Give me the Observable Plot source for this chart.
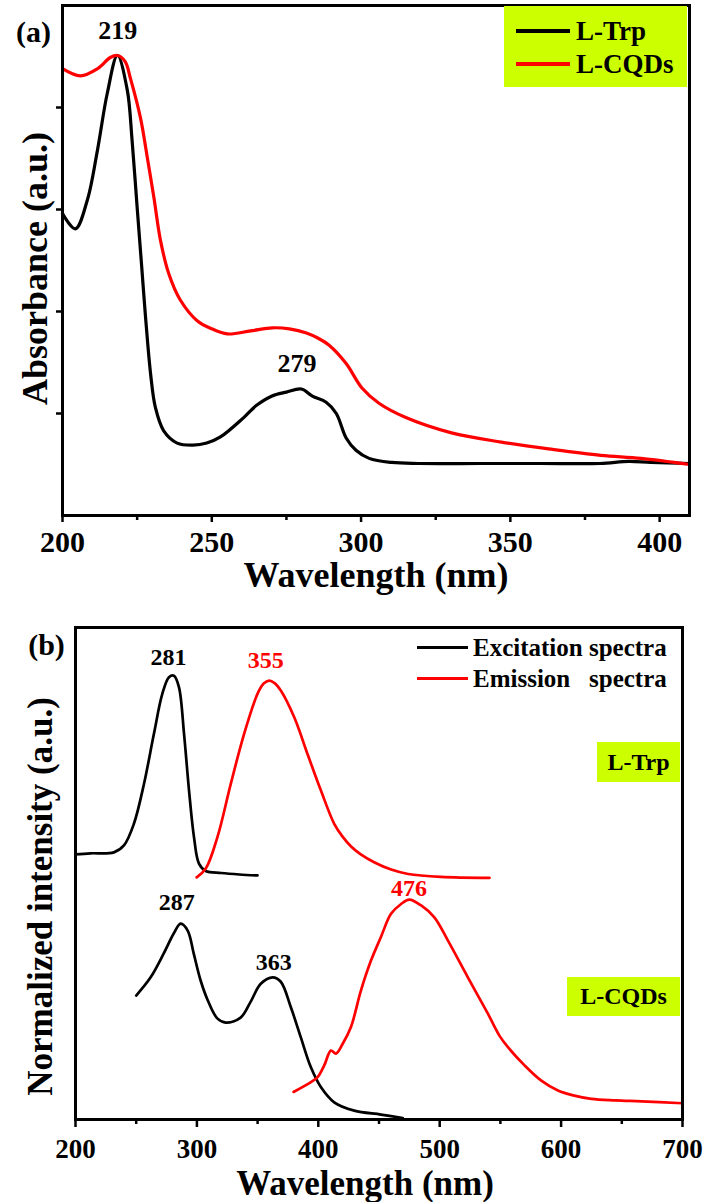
<!DOCTYPE html>
<html><head><meta charset="utf-8">
<script src="https://cdn.jsdelivr.net/npm/d3@7"></script>
<script src="https://cdn.jsdelivr.net/npm/@observablehq/plot@0.6"></script>
<style>
body{margin:0;background:#fff;}
#wrap{position:relative;width:708px;height:1202px;font-family:"Liberation Serif","Times New Roman",serif;font-weight:bold;color:#000;overflow:hidden;}
.abs{position:absolute;white-space:pre;font-weight:bold;}
.sw{position:absolute;height:3px;}
.green{position:absolute;background:#ccff00;font-weight:bold;}
</style></head><body><div id="wrap"></div>
<script>
// ---------- Panel (a): UV-Vis absorbance ----------
const trpA_wl  = [200, 204.3, 208.3, 211.7, 215, 218.4, 221.7, 223.3, 225.0, 226.5, 227.8, 229.5, 231.1, 233.9, 238.4, 243.7, 248.3, 252.9, 260.7, 265, 270, 275, 280, 283.7, 288.3, 291.7, 295, 298.3, 302.7, 310.3, 319.3, 340, 360, 380, 389.7, 397, 410];
const trpA_abs = [2.96, 2.81, 3.09, 3.58, 4.14, 4.51, 4.17, 3.68, 3.02, 2.45, 1.95, 1.39, 1.06, 0.83, 0.71, 0.69, 0.71, 0.77, 0.96, 1.08, 1.17, 1.21, 1.24, 1.17, 1.11, 1.00, 0.76, 0.64, 0.56, 0.52, 0.51, 0.51, 0.51, 0.51, 0.53, 0.52, 0.51];
const cqdA_wl  = [200, 206, 211.7, 216, 218.5, 221, 222.8, 226.1, 228.4, 230.6, 232.8, 235.6, 239.5, 245.1, 250, 255.2, 263, 270.3, 276, 281.7, 285.5, 289.3, 295, 300.3, 306, 315, 330.3, 347, 363.7, 380.3, 393.7, 410];
const cqdA_abs = [4.38, 4.31, 4.38, 4.49, 4.51, 4.45, 4.28, 3.90, 3.51, 3.12, 2.70, 2.37, 2.11, 1.91, 1.83, 1.78, 1.81, 1.84, 1.83, 1.79, 1.74, 1.67, 1.49, 1.25, 1.10, 0.96, 0.81, 0.72, 0.65, 0.59, 0.56, 0.50];
const xTicksA = [200, 250, 300, 350, 400];
const xMinorA = [225, 275, 325, 375];
const yTicksA = [1, 2, 3, 4];
const peakA_text = ["219", "279"];
const peakA_x = [218.5, 278.5];
const peakA_y = [4.75, 1.49];

// ---------- Panel (b): PL excitation / emission ----------
const excTrp_wl  = [200, 212.4, 231.6, 239.9, 248.1, 256.4, 264.6, 271.5, 277.0, 281.1, 285.2, 289.4, 293.5, 297.6, 301.7, 307.3, 320, 335, 349.9];
const excTrp_int = [53.9, 54.1, 54.3, 55.7, 60.1, 68.2, 78.4, 86.5, 89.9, 90.2, 87.9, 78.4, 66.9, 57.4, 52.0, 50.5, 50.1, 49.8, 49.6];
const emTrp_wl   = [299.8, 307.3, 316.9, 327.9, 338.9, 349.9, 355, 359.5, 364, 369.1, 380.1, 391.1, 402.1, 413.1, 420, 427, 435, 446, 460, 474, 501, 541];
const emTrp_int  = [49.2, 51.0, 57.4, 68.2, 78.4, 86.5, 88.6, 89.2, 88.7, 87.2, 81.8, 74.3, 66.9, 60.1, 57.5, 55.5, 53.9, 52.3, 50.8, 49.9, 49.3, 49.1];
const excCqd_wl  = [250, 261.9, 272.6, 280.9, 286.6, 292.4, 297.4, 303, 309, 317, 323.8, 336, 344, 352.6, 362.5, 369.1, 377.4, 385.6, 393.9, 402.1, 413.1, 429.6, 451.6, 469.6];
const excCqd_int = [25.2, 28.9, 33.7, 37.8, 39.8, 38.4, 33.7, 28.3, 24.2, 20.5, 19.7, 20.7, 23.8, 27.6, 28.9, 28.0, 22.8, 16.7, 10.6, 6.6, 3.5, 1.8, 1.0, 0.3];
const emCqd_wl   = [379.6, 393.9, 399.4, 404.9, 410.4, 414.5, 420.1, 426.9, 435.1, 443.4, 451.6, 459.9, 468.2, 475, 484.7, 495.6, 506.7, 523.2, 539.7, 549.3, 556.2, 569.9, 583.7, 597.4, 610, 624.9, 645, 666.2, 700];
const emCqd_int  = [5.6, 7.6, 8.6, 11.0, 14.0, 13.4, 15.4, 18.8, 26.2, 32.3, 37.1, 41.8, 43.8, 44.7, 43.5, 41.1, 36.4, 28.9, 21.5, 17.0, 14.7, 11.0, 7.9, 5.9, 4.9, 4.2, 3.9, 3.7, 3.3];
const xTicksB = [200, 300, 400, 500, 600, 700];
const xMinorB = [250, 350, 450, 550, 650];
const peakB_text = ["281", "355", "287", "363", "476"];
const peakB_x = [276.7, 356.8, 283.3, 363.4, 474.8];
const peakB_y = [93.9, 93.3, 44.1, 31.9, 47.0];
const peakB_color = ["#000", "#ff0000", "#000", "#000", "#ff0000"];

const serif = "'Liberation Serif','Times New Roman',serif";
const pts = (xs, ys) => xs.map((x, i) => ({x, y: ys[i]}));

const plotA = Plot.plot({
  width: 708, height: 595,
  marginLeft: 62, marginRight: 19, marginTop: 5, marginBottom: 80,
  style: {fontFamily: serif, background: "white", overflow: "visible"},
  x: {domain: [200, 410]},
  y: {domain: [0, 5]},
  marks: [
    Plot.line(pts(trpA_wl, trpA_abs), {x: "x", y: "y", stroke: "#000", strokeWidth: 3.2, curve: "catmull-rom"}),
    Plot.line(pts(cqdA_wl, cqdA_abs), {x: "x", y: "y", stroke: "#ff0000", strokeWidth: 3.2, curve: "catmull-rom"}),
    Plot.axisX({ticks: xTicksA, tickSize: 7, tickPadding: 8, tickFormat: d => String(d), fontSize: 30, fontWeight: "bold", strokeWidth: 2.5, label: null}),
    Plot.axisX({ticks: xMinorA, tickSize: 5, tickFormat: () => "", strokeWidth: 2.5, label: null}),
    Plot.axisY({ticks: yTicksA, tickSize: 6, tickFormat: () => "", strokeWidth: 2.5, label: null}),
    Plot.frame({strokeWidth: 3}),
    Plot.text(peakA_text, {x: (d, i) => peakA_x[i], y: (d, i) => peakA_y[i], text: d => d, fontSize: 26, fontWeight: "bold", textAnchor: "middle", lineAnchor: "middle"}),
    Plot.text(["Wavelength (nm)"], {frameAnchor: "bottom", dy: 60, text: d => d, fontSize: 36, fontWeight: "bold", textAnchor: "middle", lineAnchor: "middle"}),
    Plot.text(["Absorbance (a.u.)"], {frameAnchor: "left", rotate: -90, dx: -27, dy: 8, text: d => d, fontSize: 36, fontWeight: "bold", textAnchor: "middle", lineAnchor: "middle"}),
    Plot.text(["(a)"], {frameAnchor: "top-left", dx: -29, dy: 27, text: d => d, fontSize: 30, fontWeight: "bold", textAnchor: "middle", lineAnchor: "middle"})
  ]
});

const plotB = Plot.plot({
  width: 708, height: 607,
  marginLeft: 75, marginRight: 26, marginTop: 32, marginBottom: 83,
  style: {fontFamily: serif, background: "white", overflow: "visible"},
  x: {domain: [200, 700]},
  y: {domain: [0, 100], axis: null},
  marks: [
    Plot.line(pts(excTrp_wl, excTrp_int), {x: "x", y: "y", stroke: "#000", strokeWidth: 2.7, curve: "catmull-rom"}),
    Plot.line(pts(emTrp_wl, emTrp_int), {x: "x", y: "y", stroke: "#ff0000", strokeWidth: 2.7, curve: "catmull-rom"}),
    Plot.line(pts(excCqd_wl, excCqd_int), {x: "x", y: "y", stroke: "#000", strokeWidth: 2.7, curve: "catmull-rom"}),
    Plot.line(pts(emCqd_wl, emCqd_int), {x: "x", y: "y", stroke: "#ff0000", strokeWidth: 2.7, curve: "catmull-rom"}),
    Plot.axisX({ticks: xTicksB, tickSize: 8, tickPadding: 11, tickFormat: d => String(d), fontSize: 27, fontWeight: "bold", strokeWidth: 2.5, label: null}),
    Plot.axisX({ticks: xMinorB, tickSize: 5, tickFormat: () => "", strokeWidth: 2.5, label: null}),
    Plot.frame({strokeWidth: 3}),
    Plot.text(peakB_text, {x: (d, i) => peakB_x[i], y: (d, i) => peakB_y[i], fill: (d, i) => peakB_color[i], text: d => d, fontSize: 24, fontWeight: "bold", textAnchor: "middle", lineAnchor: "middle"}),
    Plot.text(["Wavelength (nm)"], {frameAnchor: "bottom", dx: -14, dy: 64, text: d => d, fontSize: 35, fontWeight: "bold", textAnchor: "middle", lineAnchor: "middle"}),
    Plot.text(["Normalized intensity (a.u.)"], {frameAnchor: "left", rotate: -90, dx: -35, dy: 23, text: d => d, fontSize: 35, fontWeight: "bold", textAnchor: "middle", lineAnchor: "middle"}),
    Plot.text(["(b)"], {frameAnchor: "top-left", dx: -29, dy: 18, text: d => d, fontSize: 30, fontWeight: "bold", textAnchor: "middle", lineAnchor: "middle"})
  ]
});

const wrap = document.getElementById("wrap");
const placeSvg = (node, top) => {
  const d = document.createElement("div");
  d.style.position = "absolute"; d.style.left = "0px"; d.style.top = top + "px";
  d.appendChild(node); wrap.appendChild(d);
};
placeSvg(plotA, 0);
placeSvg(plotB, 595);

// legends and sample tags (HTML overlays)
const legendA = ["L-Trp", "L-CQDs"];
const legendB = ["Excitation spectra", "Emission   spectra"];
const legendColors = ["#000", "#ff0000"];
const tagsB = ["L-Trp", "L-CQDs"];

function add(html) { wrap.insertAdjacentHTML("beforeend", html); }
add(`<div class="green" style="left:504px;top:6px;width:183px;height:81px"></div>`);
legendA.forEach((t, i) => {
  const cy = 31 + i * 33;
  add(`<div class="sw" style="left:516px;top:${cy - 1.75}px;width:54px;height:3.5px;background:${legendColors[i]}"></div>`);
  add(`<div class="abs" style="left:576px;top:${cy - 13.5}px;font-size:27px;line-height:27px">${t}</div>`);
});
legendB.forEach((t, i) => {
  const cy = 647 + i * 31;
  add(`<div class="sw" style="left:417px;top:${cy - 1.5}px;width:51px;background:${legendColors[i]}"></div>`);
  add(`<div class="abs" style="left:473px;top:${cy - 12.5}px;font-size:25px;line-height:25px">${t}</div>`);
});
add(`<div class="green" style="left:597px;top:742px;width:83px;height:40px;text-align:center;font-size:24px;line-height:40px">${tagsB[0]}</div>`);
add(`<div class="green" style="left:567px;top:977px;width:113px;height:39px;text-align:center;font-size:24px;line-height:39px">${tagsB[1]}</div>`);
</script></body></html>
